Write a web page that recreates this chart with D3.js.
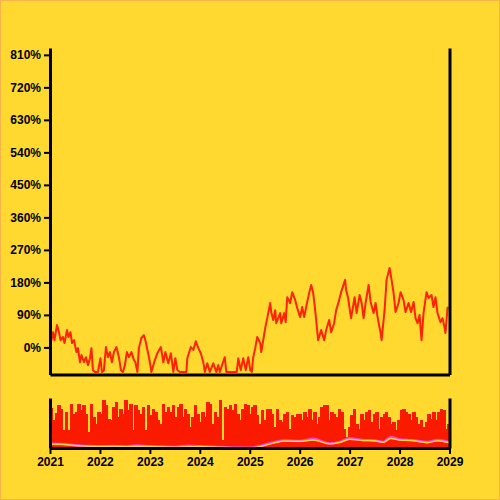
<!DOCTYPE html>
<html>
<head>
<meta charset="utf-8">
<script src="https://cdn.jsdelivr.net/npm/d3@7"></script>
<style>
  body { margin: 0; background: #ffd92f; }
  text { font-family: "Liberation Sans", Arial, sans-serif; font-weight: bold; font-size: 12px; }
</style>
</head>
<body>
<script>
// Main series: decimal year and percent change
var years = [
  2021.00, 2021.03, 2021.06, 2021.09, 2021.14, 2021.18, 2021.21, 2021.26, 2021.29, 2021.34, 2021.37, 2021.41, 2021.44,
  2021.48, 2021.53, 2021.56, 2021.60, 2021.63, 2021.68, 2021.72, 2021.76, 2021.80, 2021.83, 2021.86, 2021.90, 2021.96,
  2022.01, 2022.04, 2022.08, 2022.12, 2022.16, 2022.20, 2022.24, 2022.28, 2022.33, 2022.38, 2022.42, 2022.46,
  2022.50, 2022.54, 2022.58, 2022.63, 2022.68, 2022.71, 2022.75, 2022.78, 2022.83, 2022.88, 2022.91, 2022.96,
  2023.00, 2023.03, 2023.10, 2023.15, 2023.22, 2023.27, 2023.31, 2023.37, 2023.42, 2023.47,
  2023.51, 2023.55, 2023.60, 2023.67, 2023.73, 2023.75, 2023.82, 2023.87, 2023.92, 2023.97,
  2024.02, 2024.07, 2024.10, 2024.15, 2024.20, 2024.27, 2024.33, 2024.37, 2024.40, 2024.50,
  2024.53, 2024.61, 2024.67, 2024.74, 2024.77, 2024.82, 2024.87, 2024.92, 2024.97,
  2025.01, 2025.04, 2025.07, 2025.11, 2025.15, 2025.21, 2025.23, 2025.27, 2025.31, 2025.35, 2025.41, 2025.43,
  2025.47, 2025.51, 2025.53, 2025.61, 2025.63, 2025.69, 2025.72, 2025.75, 2025.81, 2025.85, 2025.91, 2025.95,
  2026.01, 2026.05, 2026.09, 2026.13, 2026.19, 2026.23, 2026.27, 2026.31, 2026.37, 2026.43, 2026.49,
  2026.53, 2026.59, 2026.63, 2026.69, 2026.73, 2026.79, 2026.83, 2026.91, 2026.93, 2026.97,
  2027.01, 2027.03, 2027.10, 2027.14, 2027.20, 2027.24, 2027.28, 2027.32, 2027.38, 2027.42, 2027.48,
  2027.52, 2027.56, 2027.62, 2027.64, 2027.70, 2027.74, 2027.80, 2027.84, 2027.88, 2027.92, 2027.98,
  2028.02, 2028.08, 2028.12, 2028.18, 2028.23, 2028.28, 2028.32, 2028.36, 2028.40, 2028.44, 2028.48, 2028.54,
  2028.58, 2028.64, 2028.68, 2028.72, 2028.76, 2028.82, 2028.86, 2028.90, 2028.92, 2028.96, 2028.98
];
var values = [
  35, 20, 42, 20, 62, 42, 20, 29, 12, 48, 29, 42, 12,
  20, -13, -2, -41, -21, -41, -27, -49, -30, -2, -63, -68, -68,
  -30, -68, -63, 1, -27, -13, -41, -13, 1, -27, -63, -68,
  -49, -13, -27, -13, -35, -41, -68, -2, 26, 34, 20, -13,
  -41, -68, -35, -16, 1, -41, -13, -44, -16, -68,
  -30, -63, -68, -68, -68, -30, 1, -7, 17, -2,
  -16, -41, -68, -44, -68, -44, -68, -49, -68, -27,
  -68, -68, -68, -68, -30, -63, -30, -63, -27,
  -63, -68, -27, -2, 29, 12, -13, 20, 54, 81, 123, 98,
  76, 103, 67, 95, 67, 95, 70, 139, 123, 153, 131, 109,
  84, 112, 84, 112, 151, 173, 151, 103, 20, 48, 20,
  48, 76, 42, 67, 103, 131, 153, 187, 159, 137,
  98, 81, 139, 95, 145, 123, 81, 123, 173, 126, 95,
  123, 84, 40, 20, 103, 187, 220, 187, 151, 98, 123,
  153, 131, 98, 123, 98, 126, 81, 67, 90, 20, 95, 153,
  137, 145, 112, 139, 95, 70, 81, 56, 40, 109, 112
];

// Overview bars (relative height 0-100)
var barValues = [
  80, 56, 70, 86, 79, 36, 73, 36, 89, 69, 73, 89, 76, 86, 69, 33, 89, 63, 49, 73,
  69, 96, 86, 59, 56, 83, 93, 63, 79, 69, 96, 76, 89, 36, 86, 76, 69, 83, 36, 86,
  66, 79, 73, 56, 49, 89, 73, 83, 73, 86, 63, 83, 89, 63, 79, 69, 43, 63, 86, 69,
  53, 73, 63, 93, 89, 49, 73, 63, 96, 16, 83, 79, 86, 76, 89, 69, 56, 79,
  89, 86, 69, 83, 86, 66, 49, 76, 56, 79, 79, 69, 43, 79, 56, 53, 69, 73, 39, 66,
  63, 69, 69, 56, 73, 63, 79, 56, 73, 49, 63, 83, 86, 86, 56, 73, 69, 63, 79, 73,
  39, 23, 43, 66, 79, 49, 39, 69, 56, 73, 76, 53, 69, 73, 39, 63, 69, 73, 63, 49,
  53, 36, 56, 76, 79, 73, 69, 56, 73, 63, 49, 56, 43, 53, 69, 59, 73, 56, 73, 79,
  76, 39, 49
];

// Overview trend lines
var trendYears = [2021.0, 2021.25, 2021.5, 2021.75, 2022.0, 2022.25, 2022.5, 2022.75, 2023.0, 2023.25, 2023.5,
  2023.75, 2024.0, 2024.25, 2024.5, 2024.75, 2025.0, 2025.25, 2025.5, 2025.7, 2026.0, 2026.27, 2026.6,
  2026.8, 2027.0, 2027.25, 2027.5, 2027.68, 2027.82, 2028.0, 2028.25, 2028.56, 2028.76, 2029.0];
var slowTrend = [-5, -8, -30, -42, -50, -48, -52, -45, -48, -55, -60,
  -52, -50, -58, -66, -70, -74, -40, 20, 53, 45, 71, 0,
  25, 83, 62, 55, 29, 95, 70, 60, 22, 58, 20];
var fastTrend = [0, -5, -25, -40, -45, -40, -45, -30, -45, -50, -55,
  -35, -45, -52, -60, -66, -70, -30, 35, 60, 50, 90, 5,
  35, 100, 70, 60, 35, 125, 80, 65, 35, 70, 30];

var yTicks = [0, 90, 180, 270, 360, 450, 540, 630, 720, 810];
var xTicks = [2021, 2022, 2023, 2024, 2025, 2026, 2027, 2028, 2029];

var svgWidth = 500, svgHeight = 500;

var svg = d3.select("body").append("svg")
  .attr("width", svgWidth)
  .attr("height", svgHeight);

svg.append("rect")
  .attr("width", svgWidth)
  .attr("height", svgHeight)
  .attr("fill", "#ffd92f")
  .attr("stroke", "#f8b34a")
  .attr("stroke-width", 2);

// scales
var x = d3.scaleLinear().domain([2021, 2029]).range([50, 449.5]);
var y = d3.scaleLinear().domain([-75, 829]).range([374.5, 48]);
var y2 = d3.scaleLinear().domain([-75, 829]).range([448, 398]);
var yBar = d3.scaleLinear().domain([0, 100]).range([448, 398]);
var xBand = d3.scaleBand().domain(d3.range(barValues.length)).range([50, 449.5]).padding(0);

var defs = svg.append("defs");
defs.append("clipPath").attr("id", "clipMain")
  .append("rect").attr("x", 50).attr("y", 48).attr("width", 399.5).attr("height", 326.5);
defs.append("clipPath").attr("id", "clipCtx")
  .append("rect").attr("x", 50).attr("y", 398).attr("width", 399.5).attr("height", 50);

// main line
var line = d3.line()
  .x(function(i) { return x(years[i]); })
  .y(function(i) { return y(values[i]); });

svg.append("path")
  .datum(d3.range(years.length))
  .attr("clip-path", "url(#clipMain)")
  .attr("fill", "none")
  .attr("stroke", "#ff2200")
  .attr("stroke-width", 2)
  .attr("stroke-linejoin", "round")
  .attr("d", line);

// overview bars
var ctx = svg.append("g").attr("clip-path", "url(#clipCtx)");
ctx.selectAll("rect.bar")
  .data(barValues)
  .enter()
  .append("rect")
  .attr("class", "bar")
  .attr("x", function(d, i) { return xBand(i); })
  .attr("width", xBand.bandwidth() + 1)
  .attr("y", function(d) { return yBar(d); })
  .attr("height", function(d) { return yBar(0) - yBar(d); })
  .attr("shape-rendering", "crispEdges")
  .attr("fill", "#f91a00");

var trendLine = function(arr) {
  return d3.line()
    .curve(d3.curveMonotoneX)
    .x(function(i) { return x(trendYears[i]); })
    .y(function(i) { return y2(arr[i]); });
};

ctx.append("path")
  .datum(d3.range(trendYears.length))
  .attr("fill", "none")
  .attr("stroke", "#ff3fd2")
  .attr("stroke-width", 2.5)
  .attr("d", trendLine(fastTrend));

ctx.append("path")
  .datum(d3.range(trendYears.length))
  .attr("fill", "none")
  .attr("stroke", "#ffd848")
  .attr("stroke-width", 1.5)
  .attr("d", trendLine(slowTrend));

// axes
function styleAxis(g) {
  g.select(".domain").attr("stroke", "#000").attr("stroke-width", 3);
  g.selectAll(".tick line").attr("stroke", "#000").attr("stroke-width", 2);
  g.selectAll(".tick text").attr("fill", "#000").style("font-size", "12px");
}

svg.append("g")
  .attr("transform", "translate(50,0)")
  .call(d3.axisLeft(y).tickValues(yTicks).tickFormat(function(d) { return d + "%"; }).tickSizeOuter(0))
  .call(styleAxis);

svg.append("g")
  .attr("transform", "translate(0,374.5)")
  .call(d3.axisBottom(x).tickValues([]).tickSizeOuter(0))
  .call(styleAxis);

svg.append("g")
  .attr("transform", "translate(449.5,0)")
  .call(d3.axisRight(y).tickValues([]).tickSizeOuter(0))
  .call(styleAxis);

svg.append("g")
  .attr("transform", "translate(50,0)")
  .call(d3.axisLeft(y2).tickValues([]).tickSizeOuter(0))
  .call(styleAxis);

svg.append("g")
  .attr("transform", "translate(449.5,0)")
  .call(d3.axisRight(y2).tickValues([]).tickSizeOuter(0))
  .call(styleAxis);

svg.append("g")
  .attr("transform", "translate(0,448)")
  .call(d3.axisBottom(x).tickValues(xTicks).tickFormat(d3.format("d")).tickSizeOuter(0))
  .call(styleAxis);
</script>
</body>
</html>
